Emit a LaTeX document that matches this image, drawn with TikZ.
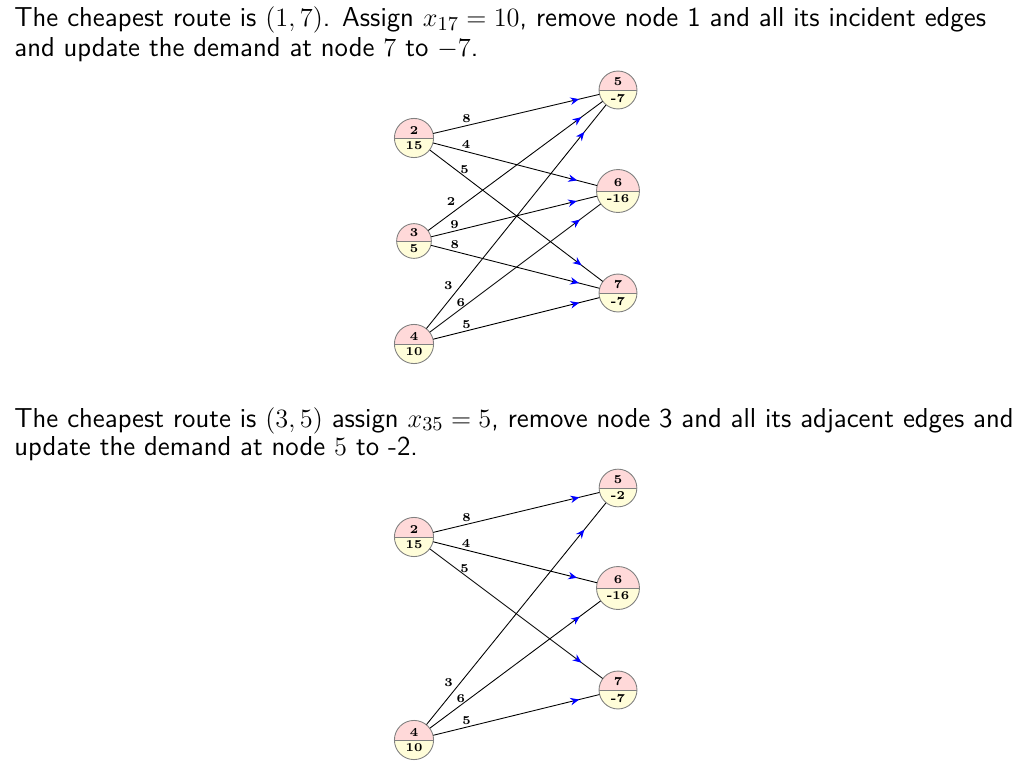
\documentclass[tikz,border=0pt]{standalone}
\usetikzlibrary{arrows.meta}
\usetikzlibrary{shapes.multipart}
\usetikzlibrary{decorations.markings}

\tikzset{
  supply/.style={circle split, draw=gray, fill=yellow!15,
    path picture={\fill[red!15] (path picture bounding box.north west) rectangle (path picture bounding box.east);},
    font=\fontsize{5.5}{6.5}\selectfont\bfseries, inner sep=1.6pt},
  route/.style={postaction={decorate}, decoration={markings,
    mark=at position 0.88 with {\arrow{Stealth[blue,length=4pt,width=3.4pt]}}}},
  cost/.style={font=\fontsize{5.5}{6.5}\selectfont\bfseries, pos=0.2, above, inner sep=1pt},
  remark/.style={anchor=base west, inner sep=0, text height=8.5pt, text depth=2.5pt,
    font=\sffamily\fontsize{12.45}{14.5}\selectfont}
}

\begin{document}
\begin{tikzpicture}[line cap=round,line join=round,x=0.015975cm,y=-0.015975cm]
\useasboundingbox (0,0) rectangle (1027,762);
% first step
\node[remark] (lineA) at (14,27) {The cheapest route is $(1,7)$. Assign $x_{17}=10$, remove node 1 and all its incident edges};
\node[remark] (lineB) at (14,57) {and update the demand at node $7$ to $-7$.};
\node[supply] (n2) at (414,138) {2 \nodepart{lower} 15};
\node[supply] (n3) at (414,241) {3 \nodepart{lower} 5};
\node[supply] (n4) at (414,344) {4 \nodepart{lower} 10};
\node[supply] (n5) at (618,90) {5 \nodepart{lower} -7};
\node[supply] (n6) at (618,191) {6 \nodepart{lower} -16};
\node[supply] (n7) at (618,293) {7 \nodepart{lower} -7};
\draw[route] (n2) -- node[cost] {8} (n5);
\draw[route] (n2) -- node[cost] {4} (n6);
\draw[route] (n2) -- node[cost] {5} (n7);
\draw[route] (n3) -- node[cost, above left, pos=0.17] {2} (n5);
\draw[route] (n3) -- node[cost, pos=0.14] {9} (n6);
\draw[route] (n3) -- node[cost, pos=0.14] {8} (n7);
\draw[route] (n4) -- node[cost, above left, pos=0.16] {3} (n5);
\draw[route] (n4) -- node[cost, pos=0.18] {6} (n6);
\draw[route] (n4) -- node[cost] {5} (n7);
% second step
\node[remark] (lineC) at (14,427) {The cheapest route is $(3,5)$ assign $x_{35}=5$, remove node 3 and all its adjacent edges and};
\node[remark] (lineD) at (14,455) {update the demand at node $5$ to -2.};
\node[supply] (m2) at (414,537) {2 \nodepart{lower} 15};
\node[supply] (m4) at (414,740) {4 \nodepart{lower} 10};
\node[supply] (m5) at (618,488) {5 \nodepart{lower} -2};
\node[supply] (m6) at (618,588) {6 \nodepart{lower} -16};
\node[supply] (m7) at (618,690) {7 \nodepart{lower} -7};
\draw[route] (m2) -- node[cost] {8} (m5);
\draw[route] (m2) -- node[cost] {4} (m6);
\draw[route] (m2) -- node[cost] {5} (m7);
\draw[route] (m4) -- node[cost, above left, pos=0.16] {3} (m5);
\draw[route] (m4) -- node[cost, pos=0.18] {6} (m6);
\draw[route] (m4) -- node[cost] {5} (m7);
\end{tikzpicture}
\end{document}
